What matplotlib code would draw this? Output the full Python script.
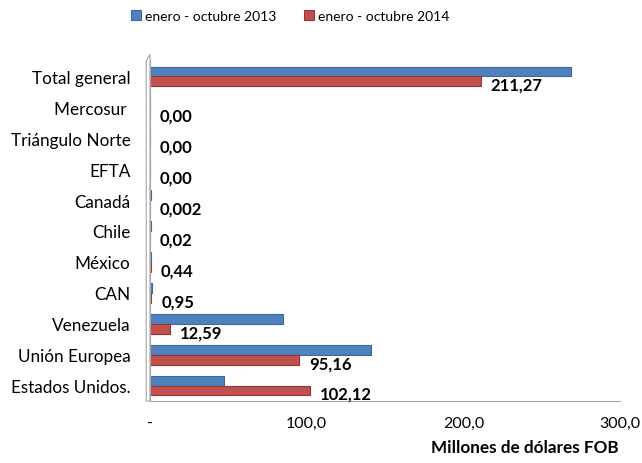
import matplotlib
matplotlib.use("Agg")
import matplotlib.pyplot as plt
from matplotlib.patches import Polygon

plt.rcParams['font.family'] = ['Lato', 'DejaVu Sans']

categories = ["Estados Unidos.", "Unión Europea", "Venezuela", "CAN", "México",
              "Chile", "Canadá", "EFTA", "Triángulo Norte", "Mercosur ", "Total general"]
v2013 = [47.0, 141.0, 85.0, 1.2, 0.9, 0.5, 0.4, 0.3, 0.3, 0.3, 269.0]
v2014 = [102.12, 95.16, 12.59, 0.95, 0.44, 0.02, 0.002, 0.0, 0.0, 0.0, 211.27]
labels2014 = ["102,12", "95,16", "12,59", "0,95", "0,44", "0,02", "0,002",
              "0,00", "0,00", "0,00", "211,27"]
series_names = ["enero - octubre 2013", "enero - octubre 2014"]
xticks = [0, 100, 200, 300]
xticklabels = ["-", "100,0", "200,0", "300,0"]
xlabel = "Millones de dólares FOB"

blue = "#4F81BD"
red = "#C0504D"

fig = plt.figure(figsize=(6.42, 4.64), dpi=100)
ax = fig.add_axes([150/642, (464-402)/464, 470/642, 340/464])

h = 0.32
y = list(range(len(categories)))
yb = [i + h/2 for i in y]
yr = [i - h/2 for i in y]
b1 = ax.barh(yb, v2013, height=h, color=blue, edgecolor="#3B6A9E", linewidth=0.8,
             label=series_names[0])
b2 = ax.barh(yr, v2014, height=h, color=red, edgecolor="#953735", linewidth=0.8,
             label=series_names[1])

for yy, v, lab in zip(yr, v2014, labels2014):
    ax.annotate(lab, (v, yy), xytext=(7, -2.5), textcoords="offset points",
                ha="left", va="center", fontsize=12, fontweight="bold", color="black")

ax.set_xlim(0, 300)
ax.set_ylim(-0.5, len(categories) - 0.5)
ax.set_yticks(y)
ax.set_yticklabels(categories, fontsize=12.3)
ax.set_xticks(xticks)
ax.set_xticklabels(xticklabels, fontsize=11.5)
ax.tick_params(axis="both", length=0)
ax.tick_params(axis="y", pad=14)
ax.tick_params(axis="x", pad=11)

for s in ["top", "right"]:
    ax.spines[s].set_visible(False)
ax.spines["left"].set_color("#A6A6A6")
ax.spines["bottom"].set_color("#A6A6A6")

# 3D wall hint
wall = Polygon([(-0.008, 0.0), (0.0, 0.0), (0.0, 1.02), (-0.008, 1.0)],
               closed=True, transform=ax.transAxes, facecolor="white",
               edgecolor="#A6A6A6", linewidth=0.8, clip_on=False)
ax.add_patch(wall)

fig.text(525/642, 1 - 448/464, xlabel, ha="center", va="center",
         fontsize=12.3, fontweight="bold")

leg = fig.legend(handles=[b1, b2], labels=series_names, loc="center",
                 bbox_to_anchor=(290/642, 1 - 17/464), ncol=2, frameon=False,
                 fontsize=10, handlelength=0.7, handleheight=0.7,
                 handletextpad=0.3, columnspacing=2.0)

fig.savefig("out.png", dpi=100)
